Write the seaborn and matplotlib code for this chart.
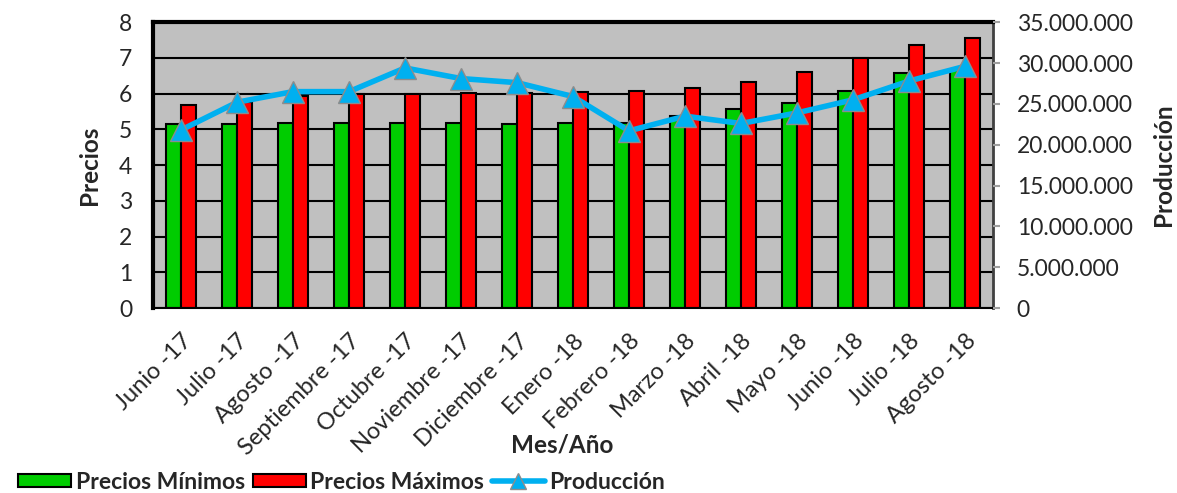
import numpy as np
import pandas as pd
import matplotlib
matplotlib.use("Agg")
import matplotlib.pyplot as plt
import matplotlib.ticker as mticker
from matplotlib.patches import Patch
from matplotlib.lines import Line2D
import seaborn as sns

meses = ["Junio -17", "Julio -17", "Agosto -17", "Septiembre -17", "Octubre -17",
         "Noviembre -17", "Diciembre -17", "Enero -18", "Febrero -18", "Marzo -18",
         "Abril -18", "Mayo -18", "Junio -18", "Julio -18", "Agosto -18"]
precios_min = [5.15, 5.15, 5.19, 5.19, 5.17, 5.17, 5.15, 5.17, 5.18, 5.38,
               5.56, 5.73, 6.07, 6.58, 6.66]
precios_max = [5.68, 5.77, 5.93, 5.99, 6.00, 6.01, 6.02, 6.05, 6.07, 6.15,
               6.32, 6.61, 7.00, 7.37, 7.56]
produccion = [21.8, 25.2, 26.5, 26.5, 29.4, 28.1, 27.6, 25.9, 21.7, 23.5,
              22.6, 23.9, 25.5, 27.8, 29.6]  # millones
produccion = [v * 1e6 for v in produccion]

VERDE = "#00CC00"
ROJO = "#FF0000"
AZUL = "#00B0F0"
FONDO = "#C0C0C0"

sns.set_theme(style="white")
plt.rcParams["font.family"] = ["Lato", "DejaVu Sans"]

df = pd.DataFrame({
    "Mes": meses * 2,
    "Precio": precios_min + precios_max,
    "Serie": ["Precios Mínimos"] * len(meses) + ["Precios Máximos"] * len(meses),
})

fig, ax = plt.subplots(figsize=(11.77, 4.93), dpi=100)
fig.subplots_adjust(left=0.130, right=0.8437, top=0.955, bottom=0.375)

ax.set_facecolor(FONDO)
ax.set_axisbelow(True)
ax.yaxis.grid(True, color="black", linewidth=1.5)

sns.barplot(data=df, x="Mes", y="Precio", hue="Serie",
            palette=[VERDE, ROJO], width=0.54, gap=0,
            edgecolor="black", linewidth=1.5, saturation=1,
            legend=False, ax=ax)

ax.set_xlim(-0.5, len(meses) - 0.5)
ax.set_ylim(0, 8)
ax.set_yticks(range(0, 9))
ax.tick_params(axis="y", labelsize=16.5, length=0, pad=15)

# ticks del eje x entre categorias
ax.set_xticks(range(len(meses)))
ax.set_xticklabels(meses, rotation=45, ha="right", rotation_mode="anchor", fontsize=17)
ax.tick_params(axis="x", which="major", length=0, pad=16)
ax.set_xticks(np.arange(-0.5, len(meses)), minor=True)
ax.tick_params(axis="x", which="minor", length=5, color="#C8C8C8", width=1.5)

ax.set_xlabel("Mes/Año", fontsize=17.5, fontweight="bold")
ax.xaxis.set_label_coords(0.487, -0.44)
ax.set_ylabel("Precios", fontsize=17.5, fontweight="bold", labelpad=13)

for side in ["left", "top"]:
    ax.spines[side].set_color("black")
    ax.spines[side].set_linewidth(3)
ax.spines["bottom"].set_color("black")
ax.spines["bottom"].set_linewidth(1.5)
ax.spines["right"].set_color("#404040")
ax.spines["right"].set_linewidth(2)

# eje secundario para la produccion
ax2 = ax.twinx()
sns.lineplot(x=np.arange(len(meses)), y=produccion, color=AZUL, linewidth=4,
             marker="^", markersize=16, markeredgecolor="#8C8C8C",
             markeredgewidth=1, ax=ax2)
ax2.set_ylim(0, 35e6)
ax2.set_yticks(np.arange(0, 35e6 + 1, 5e6))
ax2.yaxis.set_major_formatter(mticker.FuncFormatter(lambda v, p: f"{int(v):,}".replace(",", ".")))
ax2.tick_params(axis="y", labelsize=16.5, length=5, color="#A0A0A0", width=1.5, pad=12)
ax2.set_ylabel("Producción", fontsize=17.5, fontweight="bold", labelpad=14)
for s in ax2.spines.values():
    s.set_visible(False)

handles = [
    Patch(facecolor=VERDE, edgecolor="black", linewidth=1.5, label="Precios Mínimos"),
    Patch(facecolor=ROJO, edgecolor="black", linewidth=1.5, label="Precios Máximos"),
    Line2D([], [], color=AZUL, linewidth=4, marker="^", markersize=11,
           markeredgecolor="#8C8C8C", markeredgewidth=1, label="Producción"),
]
fig.legend(handles=handles, loc="center left", bbox_to_anchor=(0.002, 0.022), ncol=3,
           frameon=False, prop={"size": 16.5, "weight": "bold"},
           handlelength=2.3, handleheight=0.55, handletextpad=0.2, columnspacing=0.35,
           borderpad=0.2)

fig.savefig("out.png", dpi=100)
